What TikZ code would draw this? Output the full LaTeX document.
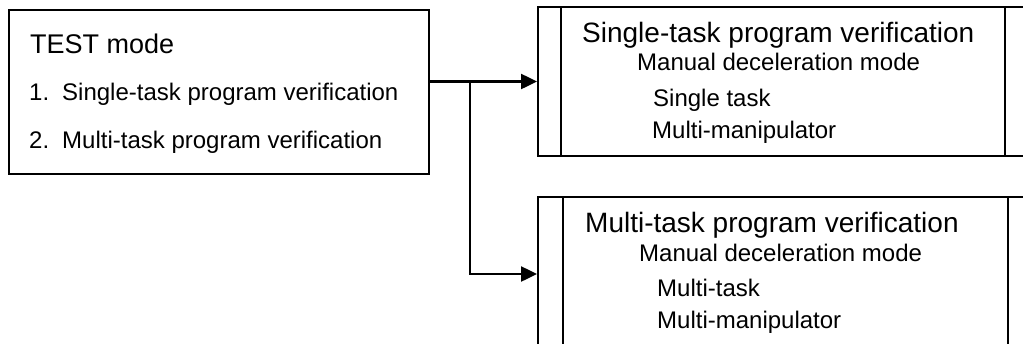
\documentclass[tikz,border=0pt]{standalone}
\usepackage{fontspec}
\setmainfont{Liberation Sans}
\usetikzlibrary{arrows.meta}
\begin{document}
\begin{tikzpicture}[x=1pt,y=-1pt,
  box/.style={draw,line width=2pt,rectangle,inner sep=0pt,anchor=north west},
  divider/.style={line width=1.8pt},
  big/.style={anchor=base west,inner sep=0pt,font=\fontsize{28}{32}\selectfont},
  head/.style={anchor=base west,inner sep=0pt,font=\fontsize{27}{32}\selectfont},
  small/.style={anchor=base west,inner sep=0pt,font=\fontsize{24}{28}\selectfont},
  conn/.style={line width=2.5pt,-{Triangle[length=16pt,width=15pt]}}]
\useasboundingbox (0,0) rectangle (1023,343);
\clip (0,0) rectangle (1023,343);
% left box
\node[box,minimum width=420pt,minimum height=164pt] (test) at (8,9) {};
\node[head] (t0) at (30,53) {TEST mode};
\node[small] (t1) at (29,100) {1.\hspace{13pt}Single-task program verification};
\node[small] (t2) at (29,148) {2.\hspace{13pt}Multi-task program verification};
% top right box
\node[box,minimum width=492pt,minimum height=149pt] (single) at (537,6) {};
\draw[divider] ([xshift=24pt]single.north west) -- ([xshift=24pt]single.south west);
\draw[divider] ([xshift=468pt]single.north west) -- ([xshift=468pt]single.south west);
\node[big] (s0) at (582,42) {Single-task program verification};
\node[small] (s1) at (637,70) {Manual deceleration mode};
\node[small] (s2) at (653,106) {Single task};
\node[small] (s3) at (652,138) {Multi-manipulator};
% bottom right box
\node[box,minimum width=492pt,minimum height=154pt] (multi) at (537,196) {};
\draw[divider] ([xshift=26pt]multi.north west) -- ([xshift=26pt]multi.south west);
\draw[divider] ([xshift=471pt]multi.north west) -- ([xshift=471pt]multi.south west);
\node[big] (m0) at (585,232) {Multi-task program verification};
\node[small] (m1) at (639,261) {Manual deceleration mode};
\node[small] (m2) at (657,296) {Multi-task};
\node[small] (m3) at (657,328) {Multi-manipulator};
% connectors
\coordinate (split) at (470,0);
\draw[conn] (test.east |- single.west) -- (single.west);
\draw[conn] (split |- single.west) -- (split |- multi.west) -- (multi.west);
\end{tikzpicture}
\end{document}
